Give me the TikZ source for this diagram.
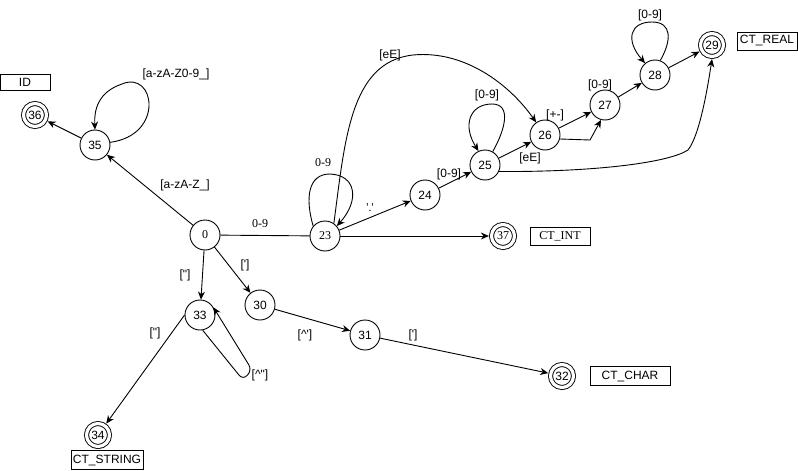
\documentclass[tikz,border=0pt]{standalone}
\usepackage{fontspec}
\setmainfont{Liberation Sans}
\newfontfamily\tms{Liberation Serif}
\usetikzlibrary{arrows.meta}
\begin{document}
\begin{tikzpicture}[x=1pt,y=-1pt, line width=0.9pt,
  >={Stealth[length=8pt,width=7pt]},
  font=\fontsize{12}{14}\selectfont,
  st/.style={circle,draw,minimum size=30pt,inner sep=0pt},
  acc/.style={circle,draw,double,double distance=3.2pt,minimum size=23pt,inner sep=0pt,outer sep=2.6pt},
  tag/.style={draw,rectangle,inner sep=0pt,minimum height=18pt},
  lbl/.style={inner sep=1pt},
  ser/.style={font=\tms\fontsize{12}{14}\selectfont}]
\useasboundingbox (0,0) rectangle (798,471);

% states
\node[st,ser] (n0) at (205,235) {0};
\node[st] (n35) at (95,145) {35};
\node[acc] (n36) at (35,115) {36};
\node[tag,minimum width=50pt,minimum height=16pt] (tid) at (25,82.5) {ID};
\node[st,ser] (n23) at (325,236) {23};
\node[st] (n24) at (425,195) {24};
\node[st] (n25) at (485,165) {25};
\node[st] (n26) at (545,135) {26};
\node[st] (n27) at (605,105) {27};
\node[st] (n28) at (655,75) {28};
\node[acc] (n29) at (712,45) {29};
\node[tag,minimum width=60pt] (treal) at (767,41) {CT\_REAL};
\node[acc,ser] (n37) at (503,236) {37};
\node[tag,ser,minimum width=60pt] (tint) at (560,236) {CT\_INT};
\node[st] (n33) at (200,315) {33};
\node[st] (n30) at (260,305) {30};
\node[st] (n31) at (365,335) {31};
\node[acc] (n32) at (562,376) {32};
\node[tag,minimum width=80pt,minimum height=19pt] (tchar) at (630,376) {CT\_CHAR};
\node[acc] (n34) at (98,435) {34};
\node[tag,minimum width=72pt,minimum height=19pt] (tstr) at (107,460) {CT\_STRING};

% identifier branch
\draw[->] (n0) -- (n35);
\draw[->] (n35) -- (n36);
\draw[->] (n35.10) .. controls (165,135) and (155,70) .. (122,84) .. controls (98,92) and (94,110) .. (n35.north);
\node[lbl] (l1) at (176,74) {[a-zA-Z0-9\_]};
\node[lbl] (l2) at (185,185) {[a-zA-Z\_]};

% numbers
\draw (n0) -- (n23);
\node[lbl,ser] (l3) at (260,224) {0-9};
\draw[->] (n23.140) .. controls (305,198) and (308,174) .. (330,174) .. controls (356,175) and (360,200) .. (n23.40);
\node[lbl,ser] (l4) at (323,163) {0-9};
\draw[->] (n23.55) .. controls (345,140) and (350,62) .. (413,55) .. controls (465,50) and (510,85) .. (n26.125);
\node[lbl] (l5) at (390,55) {[eE]};
\draw[->] (n23) -- (n24);
\node[lbl,ser] (l6) at (370,208) {\textquotesingle.\textquotesingle};
\draw[->] (n23) -- (n37);
\draw[->] (n24) -- (n25);
\node[lbl] (l7) at (449,174) {[0-9]};
\draw[->] (n25.60) .. controls (505,130) and (512,104) .. (492,104) .. controls (470,104) and (462,125) .. (n25.115);
\node[lbl] (l8) at (487,95) {[0-9]};
\draw[->] (n25) -- (n26);
\node[lbl] (l9) at (530,158) {[eE]};
\draw[->] (n25.-25) .. controls (600,172) and (670,162) .. (688,150) .. controls (700,135) and (708,85) .. (n29.south);
\draw[->] (n26) -- (n27);
\node[lbl] (l10) at (555,115) {[+-]};
\draw[->] (n26.-15) -- (590,140) -- (n27.-105);
\draw[->] (n27) -- (n28);
\node[lbl] (l11) at (600,85) {[0-9]};
\draw[->] (n28.70) .. controls (672,40) and (672,22) .. (652,22) .. controls (630,22) and (625,40) .. (n28.130);
\node[lbl] (l12) at (650,15) {[0-9]};
\draw[->] (n28) -- (n29);

% strings and chars
\draw[->] (n0) -- (n33);
\node[lbl] (l13) at (185,275) {[\textquotedbl]};
\draw[->] (n0) -- (n30);
\node[lbl] (l14) at (245,265) {[\textquotesingle]};
\draw[->] (n30) -- (n31);
\node[lbl] (l15) at (305,335) {[\textasciicircum\textquotesingle]};
\draw[->] (n31) -- (n32);
\node[lbl] (l16) at (413,335) {[\textquotesingle]};
\draw[->] (n33.180) -- (n34);
\node[lbl] (l17) at (155,333) {[\textquotedbl]};
\draw[->,rounded corners=6pt] (n33.-80) -- (243,380) -- (252,370) -- (n33.30);
\node[lbl] (l18) at (260,375) {[\textasciicircum\textquotedbl]};
\end{tikzpicture}
\end{document}
